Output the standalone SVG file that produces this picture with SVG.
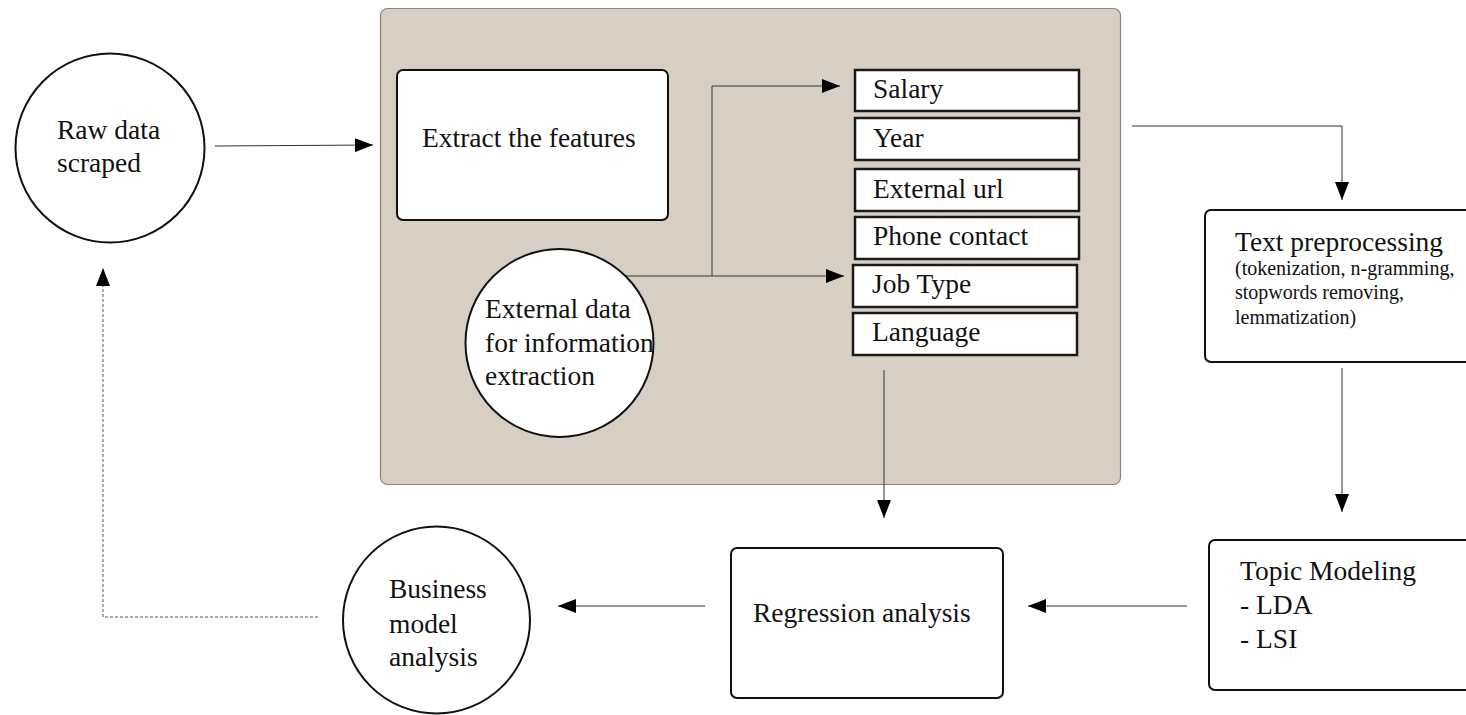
<svg xmlns="http://www.w3.org/2000/svg" width="1466" height="715" viewBox="0 0 1466 715">
<defs>
<style>
text{font-family:"Liberation Serif","Times New Roman",serif;font-size:27.5px;fill:#111}
.small{font-size:20px}
.node{fill:#fff;stroke:#111;stroke-width:2}
.feat{fill:#fff;stroke:#1a1a1a;stroke-width:2.5}
.conn{fill:none;stroke:#333;stroke-width:1}
.dash{fill:none;stroke:#555;stroke-width:1;stroke-dasharray:3,2}
</style>
<marker id="ah" markerUnits="userSpaceOnUse" markerWidth="18" markerHeight="14" refX="18" refY="7" orient="auto">
<path d="M0,0 L18,7 L0,14 z" fill="#000"/>
</marker>
</defs>
<rect width="1466" height="715" fill="#fff"/>
<g id="panel">
<rect x="380.5" y="8.5" width="740" height="476" rx="7" fill="#d8cfc4" stroke="#8a8580" stroke-width="1.2"/>
</g>
<g id="connectors">
<line class="conn" x1="215" y1="146" x2="373" y2="145" marker-end="url(#ah)"/>
<polyline class="conn" points="626,276 712,276 712,86 840,86" marker-end="url(#ah)"/>
<line class="conn" x1="712" y1="276" x2="844" y2="276" marker-end="url(#ah)"/>
<line class="conn" x1="884" y1="370" x2="884" y2="518" marker-end="url(#ah)"/>
<polyline class="conn" points="1132,126 1342,126 1342,200" marker-end="url(#ah)"/>
<line class="conn" x1="1342" y1="368" x2="1342" y2="512" marker-end="url(#ah)"/>
<line class="conn" x1="1187" y1="606" x2="1028" y2="606" marker-end="url(#ah)"/>
<line class="conn" x1="705" y1="606" x2="558" y2="606" marker-end="url(#ah)"/>
<polyline class="dash" points="318,617 103,617 103,268" marker-end="url(#ah)"/>
</g>
<g id="raw-data">
<circle class="node" cx="110" cy="148" r="94.5"/>
<text x="57" y="139">Raw data</text>
<text x="57" y="172">scraped</text>
</g>
<g id="extract-features">
<rect class="node" x="397" y="70" width="271" height="150" rx="6"/>
<text x="422" y="147">Extract the features</text>
</g>
<g id="external-data">
<circle class="node" cx="559.5" cy="343" r="94"/>
<text x="485" y="318">External data</text>
<text x="485" y="352">for information</text>
<text x="485" y="385">extraction</text>
</g>
<g id="salary">
<rect class="feat" x="855" y="70" width="224" height="41"/>
<text x="873" y="98">Salary</text>
</g>
<g id="year">
<rect class="feat" x="855" y="118" width="224" height="42"/>
<text x="873" y="147">Year</text>
</g>
<g id="external-url">
<rect class="feat" x="855" y="169" width="224" height="42"/>
<text x="873" y="198">External url</text>
</g>
<g id="phone-contact">
<rect class="feat" x="855" y="217" width="224" height="42"/>
<text x="873" y="245">Phone contact</text>
</g>
<g id="job-type">
<rect class="feat" x="853" y="265" width="224" height="42"/>
<text x="872" y="293">Job Type</text>
</g>
<g id="language">
<rect class="feat" x="853" y="313" width="224" height="42"/>
<text x="872" y="341">Language</text>
</g>
<g id="text-preprocessing">
<rect class="node" x="1205" y="210" width="300" height="152" rx="6"/>
<text x="1235" y="251">Text preprocessing</text>
<text class="small" x="1235" y="275">(tokenization, n-gramming,</text>
<text class="small" x="1235" y="299">stopwords removing,</text>
<text class="small" x="1235" y="324">lemmatization)</text>
</g>
<g id="topic-modeling">
<rect class="node" x="1209" y="540" width="300" height="150" rx="6"/>
<text x="1240" y="580">Topic Modeling</text>
<text x="1240" y="614">- LDA</text>
<text x="1240" y="648">- LSI</text>
</g>
<g id="regression">
<rect class="node" x="731" y="548" width="272" height="150" rx="6"/>
<text x="753" y="622">Regression analysis</text>
</g>
<g id="business-model">
<circle class="node" cx="436.5" cy="620" r="93.5"/>
<text x="389" y="598">Business</text>
<text x="389" y="633">model</text>
<text x="389" y="666">analysis</text>
</g>
</svg>
